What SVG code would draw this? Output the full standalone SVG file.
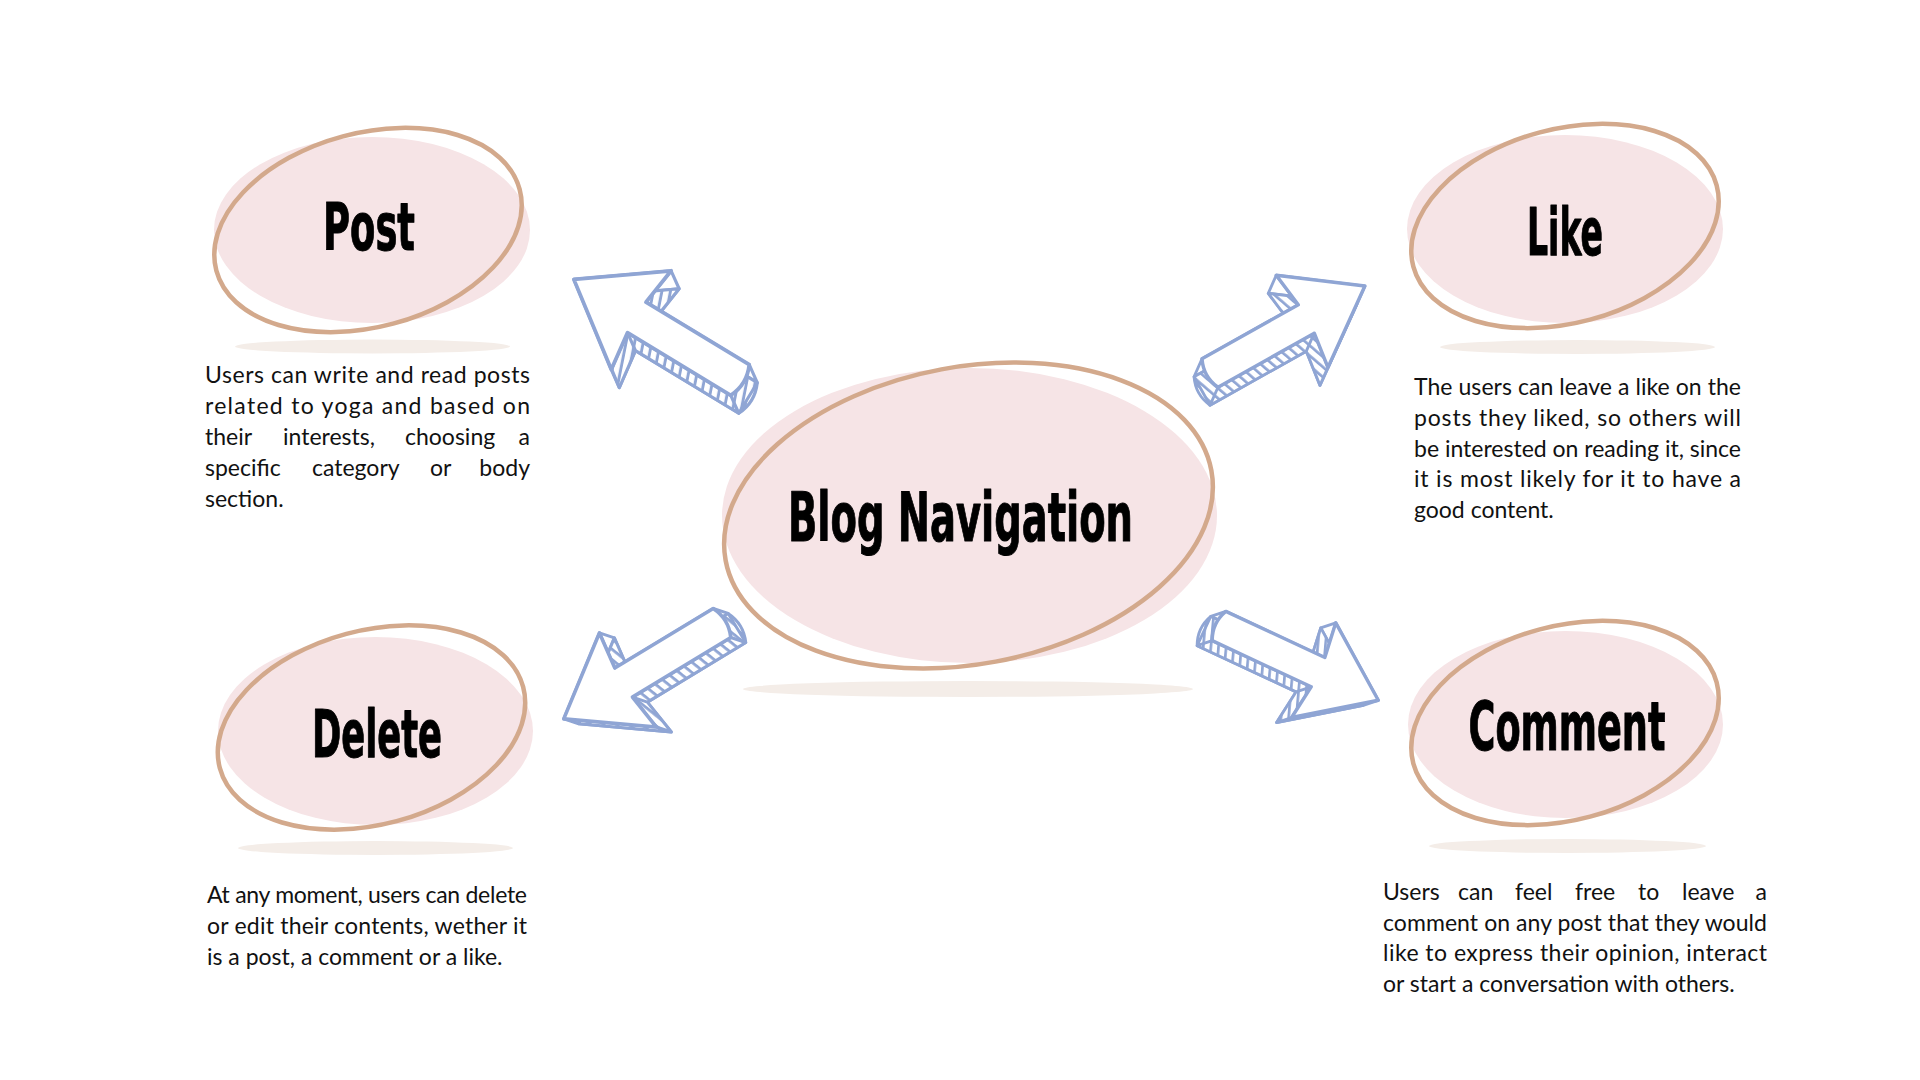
<svg xmlns="http://www.w3.org/2000/svg" xmlns:xlink="http://www.w3.org/1999/xlink" width="1920" height="1080" viewBox="0 0 1920 1080">
<style>
.blob{fill:#f6e4e6}
.ring{fill:none;stroke:#d3a98c;stroke-width:4.5}
.shadow{fill:#f4ede8}
.title{font-family:"Liberation Sans Narrow","DejaVu Sans Condensed","Liberation Sans",sans-serif;font-weight:bold;fill:#000;stroke:#000;stroke-width:1;stroke-linejoin:round;text-anchor:middle}
.body{font-family:"Lato","Liberation Sans",sans-serif;font-size:23px;fill:#111}
.end{text-anchor:end}
.face{fill:#fff;stroke:#8fa5d4;stroke-width:3.6;stroke-linejoin:round;stroke-linecap:round}
.side{fill:url(#hatch);stroke:#8fa5d4;stroke-width:3;stroke-linejoin:round;stroke-linecap:round}
</style>
<defs>
<pattern id="hatch" patternUnits="userSpaceOnUse" width="8" height="8" patternTransform="rotate(-20)">
<rect width="8" height="8" fill="#fff"/>
<rect x="0" y="0" width="2.8" height="8" fill="#8fa5d4"/>
</pattern>
<path id="arrowFace" d="M0,-17 L115,-17 L110,-55 L185,0 L110,55 L115,17 L0,17 Q-8,0 0,-17 Z"/>
</defs>
<rect width="1920" height="1080" fill="#fff"/>

<g id="connectors">
<g id="arrow-post" transform="translate(740,380) rotate(211.2) scale(1.05)">
<use xlink:href="#arrowFace" href="#arrowFace" class="side" transform="translate(-15.4,-10.7)"/>
<path class="side" d="M0,-17 l115,0 l-15.4,-10.7 l-115,0 z M115,-17 l-5,-38 l-15.4,-10.7 l5,38 z M110,-55 l75,55 l-15.4,-10.7 l-75,-55 z M185,0 l-75,55 l-15.4,-10.7 l75,-55 z M110,55 l5,-38 l-15.4,-10.7 l-5,38 z M115,17 l-115,0 l-15.4,-10.7 l115,0 z M0,17 l0,-34 l-15.4,-10.7 l0,34 z"/>
<use xlink:href="#arrowFace" href="#arrowFace" class="face"/>
</g>
<g id="arrow-like" transform="translate(1210,373) rotate(-29.3) scale(0.96)">
<use xlink:href="#arrowFace" href="#arrowFace" class="side" transform="translate(-16.4,12.3)"/>
<path class="side" d="M0,-17 l115,0 l-16.4,12.3 l-115,0 z M115,-17 l-5,-38 l-16.4,12.3 l5,38 z M110,-55 l75,55 l-16.4,12.3 l-75,-55 z M185,0 l-75,55 l-16.4,12.3 l75,-55 z M110,55 l5,-38 l-16.4,12.3 l-5,38 z M115,17 l-115,0 l-16.4,12.3 l115,0 z M0,17 l0,-34 l-16.4,12.3 l0,34 z"/>
<use xlink:href="#arrowFace" href="#arrowFace" class="face"/>
</g>
<g id="arrow-delete" transform="translate(722,623) rotate(148.8)">
<use xlink:href="#arrowFace" href="#arrowFace" class="side" transform="translate(-10.2,-12)"/>
<path class="side" d="M0,-17 l115,0 l-10.2,-12 l-115,0 z M115,-17 l-5,-38 l-10.2,-12 l5,38 z M110,-55 l75,55 l-10.2,-12 l-75,-55 z M185,0 l-75,55 l-10.2,-12 l75,-55 z M110,55 l5,-38 l-10.2,-12 l-5,38 z M115,17 l-115,0 l-10.2,-12 l115,0 z M0,17 l0,-34 l-10.2,-12 l0,34 z"/>
<use xlink:href="#arrowFace" href="#arrowFace" class="face"/>
</g>
<g id="arrow-comment" transform="translate(1219,626) rotate(25) scale(0.95)">
<use xlink:href="#arrowFace" href="#arrowFace" class="side" transform="translate(-12.1,11.5)"/>
<path class="side" d="M0,-17 l115,0 l-12.1,11.5 l-115,0 z M115,-17 l-5,-38 l-12.1,11.5 l5,38 z M110,-55 l75,55 l-12.1,11.5 l-75,-55 z M185,0 l-75,55 l-12.1,11.5 l75,-55 z M110,55 l5,-38 l-12.1,11.5 l-5,38 z M115,17 l-115,0 l-12.1,11.5 l115,0 z M0,17 l0,-34 l-12.1,11.5 l0,34 z"/>
<use xlink:href="#arrowFace" href="#arrowFace" class="face"/>
</g>
</g>

<g id="node-blog">
<ellipse class="shadow" cx="968" cy="689" rx="225" ry="8"/>
<ellipse class="blob" cx="969.5" cy="515.5" rx="247.5" ry="147.5"/>
<ellipse class="ring" cx="968.5" cy="515.5" rx="247" ry="148.6" transform="rotate(-10.5 968.5 515.5)"/>
<text class="title" x="960.5" y="541" font-size="68" textLength="345" lengthAdjust="spacingAndGlyphs">Blog Navigation</text>
</g>

<g id="node-post">
<ellipse class="shadow" cx="372.5" cy="346.5" rx="137.5" ry="7"/>
<ellipse class="blob" cx="372" cy="230" rx="158" ry="93"/>
<ellipse class="ring" cx="368" cy="230" rx="157" ry="97" transform="rotate(-15 368 230)"/>
<text class="title" x="369" y="250" font-size="65" textLength="92" lengthAdjust="spacingAndGlyphs">Post</text>
<g class="body">
<text x="205" y="383" textLength="325" lengthAdjust="spacing">Users can write and read posts</text>
<text x="205" y="414" textLength="325" lengthAdjust="spacing">related to yoga and based on</text>
<text x="205" y="445">their</text><text x="283" y="445">interests,</text><text x="405" y="445">choosing</text><text class="end" x="530" y="445">a</text>
<text x="205" y="476">specific</text><text x="312" y="476">category</text><text x="430" y="476">or</text><text class="end" x="530" y="476">body</text>
<text x="205" y="507">section.</text>
</g>
</g>

<g id="node-like">
<ellipse class="shadow" cx="1577.5" cy="347" rx="137.5" ry="7"/>
<ellipse class="blob" cx="1565" cy="229" rx="158" ry="94"/>
<ellipse class="ring" cx="1565" cy="226" rx="157" ry="97" transform="rotate(-15 1565 226)"/>
<text class="title" x="1565" y="255" font-size="65" textLength="76" lengthAdjust="spacingAndGlyphs">Like</text>
<g class="body">
<text x="1414" y="395" textLength="327" lengthAdjust="spacing">The users can leave a like on the</text>
<text x="1414" y="426" textLength="327" lengthAdjust="spacing">posts they liked, so others will</text>
<text x="1414" y="457" textLength="327" lengthAdjust="spacing">be interested on reading it, since</text>
<text x="1414" y="487" textLength="327" lengthAdjust="spacing">it is most likely for it to have a</text>
<text x="1414" y="518">good content.</text>
</g>
</g>

<g id="node-delete">
<ellipse class="shadow" cx="375.5" cy="848" rx="137.5" ry="7"/>
<ellipse class="blob" cx="375.5" cy="731" rx="157.5" ry="94"/>
<ellipse class="ring" cx="371.5" cy="727.5" rx="157" ry="97" transform="rotate(-15 371.5 727.5)"/>
<text class="title" x="377" y="757" font-size="65" textLength="130" lengthAdjust="spacingAndGlyphs">Delete</text>
<g class="body">
<text x="207" y="903" textLength="320" lengthAdjust="spacing">At any moment, users can delete</text>
<text x="207" y="934" textLength="320" lengthAdjust="spacing">or edit their contents, wether it</text>
<text x="207" y="965">is a post, a comment or a like.</text>
</g>
</g>

<g id="node-comment">
<ellipse class="shadow" cx="1567.5" cy="846" rx="138.5" ry="7"/>
<ellipse class="blob" cx="1565.5" cy="724.5" rx="157.5" ry="93.5"/>
<ellipse class="ring" cx="1565" cy="723" rx="157" ry="97" transform="rotate(-15 1565 723)"/>
<text class="title" x="1567" y="750" font-size="67" textLength="197" lengthAdjust="spacingAndGlyphs">Comment</text>
<g class="body">
<text x="1383" y="900">Users</text><text x="1458" y="900">can</text><text x="1515" y="900">feel</text><text x="1575" y="900">free</text><text x="1638" y="900">to</text><text x="1682" y="900">leave</text><text class="end" x="1767" y="900">a</text>
<text x="1383" y="930.5" textLength="384" lengthAdjust="spacing">comment on any post that they would</text>
<text x="1383" y="961" textLength="384" lengthAdjust="spacing">like to express their opinion, interact</text>
<text x="1383" y="992">or start a conversation with others.</text>
</g>
</g>
</svg>
